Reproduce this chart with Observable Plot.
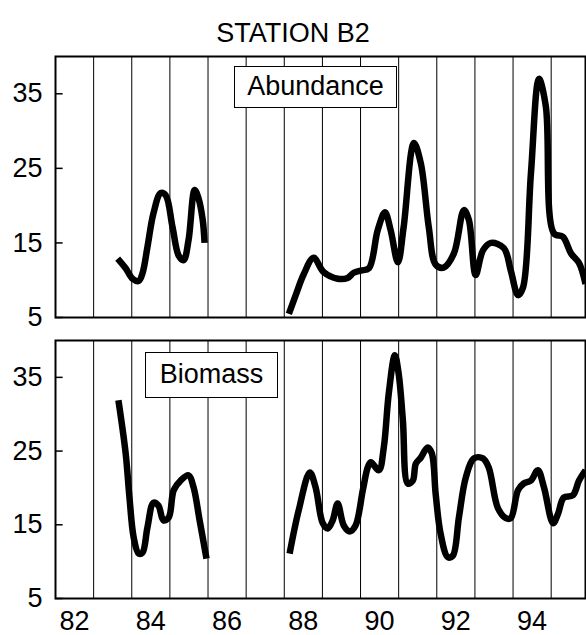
<!DOCTYPE html>
<html><head><meta charset="utf-8">
<script src="https://cdn.jsdelivr.net/npm/d3@7"></script>
<script src="https://cdn.jsdelivr.net/npm/@observablehq/plot@0.6"></script>
<style>
body{margin:0;background:#fff;}
#wrap{position:relative;width:586px;height:635px;overflow:hidden;font-family:"Liberation Sans",Arial,sans-serif;color:#000;}
#title{position:absolute;left:0;width:586px;top:17px;text-align:center;font-size:27px;line-height:32px;}
.panel{position:absolute;left:0;}
.panel text{font-size:27px;}
.tag{position:absolute;background:#fff;border:1.5px solid #000;font-size:27px;text-align:center;box-sizing:border-box;}
</style></head>
<body><div id="wrap"><div id="title">STATION B2</div></div>
<script>
// ---- data (decimal years; value) ----
const abundance1Year = [83.13, 83.34, 83.52, 83.68, 83.78, 83.91, 84.07, 84.26, 84.39, 84.57, 84.73, 84.86, 84.99, 85.15, 85.25, 85.36, 85.41];
const abundance1Value = [12.9, 11.6, 10.2, 9.9, 10.9, 14.4, 19.0, 21.7, 21.4, 17.1, 13.3, 12.7, 15.4, 22.1, 21.0, 18.1, 15.0];
const abundance2Year = [87.62, 87.80, 88.01, 88.27, 88.53, 88.90, 89.16, 89.32, 89.51, 89.72, 89.95, 90.14, 90.29, 90.48, 90.63, 90.90, 91.08, 91.29, 91.47, 91.68, 91.95, 92.21, 92.34, 92.52, 92.71, 92.92, 93.26, 93.44, 93.63, 93.76, 93.97, 94.18, 94.36, 94.57, 94.81, 95.02, 95.23, 95.40];
const abundance2Value = [5.5, 8.0, 10.8, 13.0, 11.1, 10.2, 10.3, 11.0, 11.3, 11.6, 16.7, 19.1, 16.7, 12.4, 17.1, 28.4, 25.7, 17.1, 12.1, 11.7, 13.6, 19.4, 18.1, 10.7, 14.0, 15.0, 14.3, 11.3, 8.0, 9.0, 24.4, 37.0, 33.3, 16.3, 15.8, 13.6, 12.3, 9.5];
const biomass1Year = [83.15, 83.34, 83.44, 83.55, 83.68, 83.78, 83.91, 84.07, 84.20, 84.33, 84.47, 84.60, 84.78, 84.99, 85.12, 85.28, 85.46];
const biomass1Value = [31.9, 24.7, 18.7, 13.3, 11.1, 11.2, 14.6, 18.0, 17.6, 15.6, 16.0, 19.7, 21.0, 21.7, 20.1, 15.6, 10.4];
const biomass2Year = [87.64, 87.88, 88.17, 88.32, 88.51, 88.64, 88.77, 88.90, 89.06, 89.22, 89.37, 89.56, 89.69, 89.77, 89.98, 90.11, 90.24, 90.40, 90.50, 90.61, 90.74, 90.87, 90.95, 91.08, 91.26, 91.37, 91.47, 91.60, 91.79, 91.92, 92.08, 92.26, 92.47, 92.71, 92.86, 93.10, 93.31, 93.44, 93.63, 93.78, 93.97, 94.15, 94.31, 94.55, 94.68, 94.83, 95.07, 95.23, 95.40];
const biomass2Value = [11.1, 17.0, 22.1, 20.1, 15.2, 14.5, 15.6, 17.9, 14.9, 14.1, 14.9, 19.7, 22.8, 23.5, 22.4, 25.5, 32.8, 38.0, 35.5, 29.2, 20.6, 21.0, 23.3, 24.1, 25.5, 24.7, 19.2, 13.8, 10.6, 10.8, 16.0, 21.4, 24.0, 24.0, 22.8, 17.3, 15.9, 15.9, 19.7, 20.6, 21.0, 22.4, 20.1, 15.2, 16.5, 18.7, 19.0, 21.0, 22.4];

const xTickLabels = [82, 84, 86, 88, 90, 92, 94];
const yTickLabels = [5, 15, 25, 35];
const gridYears = [82.5, 83.5, 84.5, 85.5, 86.5, 87.5, 88.5, 89.5, 90.5, 91.5, 92.5, 93.5, 94.5];
const xDomain = [81.5, 95.4];
const yDomain = [5, 40];

function rows(years, values, seg) { return years.map((t, i) => ({t, v: values[i], seg})); }
const abundance = [...rows(abundance1Year, abundance1Value, "a"), ...rows(abundance2Year, abundance2Value, "b")];
const biomass = [...rows(biomass1Year, biomass1Value, "a"), ...rows(biomass2Year, biomass2Value, "b")];

const font = '"Liberation Sans", Arial, sans-serif';

function panel(data, opts) {
  const marks = [
    Plot.ruleX(gridYears, {x: d => d, stroke: "#000", strokeWidth: 1}),
    Plot.line(data, {x: "t", y: "v", z: "seg", curve: "catmull-rom", stroke: "#000", strokeWidth: 6.5, strokeLinejoin: "round", strokeLinecap: "butt"}),
    Plot.ruleY(yTickLabels, {y: d => d, x1: xDomain[0], x2: xDomain[0] + 0.2, stroke: "#000", strokeWidth: 1.5}),
    Plot.frame({stroke: "#000", strokeWidth: 2}),
    Plot.axisY({ticks: yTickLabels, tickSize: 0, tickPadding: 13, label: null})
  ];
  if (opts.xAxis) marks.push(Plot.axisX({ticks: xTickLabels, tickSize: 0, tickPadding: 12, label: null}));
  return Plot.plot({
    width: 586, height: opts.height,
    marginLeft: 55, marginRight: 1, marginTop: opts.mt, marginBottom: opts.mb,
    x: {domain: xDomain, label: null, axis: opts.xAxis ? undefined : null},
    y: {domain: yDomain, label: null},
    style: {fontFamily: font, fontSize: "27px", color: "#000", background: "transparent", overflow: "visible"},
    marks
  });
}

const wrap = document.getElementById("wrap");
const topPanel = panel(abundance, {height: 280, mt: 6, mb: 13, xAxis: false});
topPanel.classList.add("panel"); topPanel.style.top = "50px";
wrap.appendChild(topPanel);
const bottomPanel = panel(biomass, {height: 305, mt: 10, mb: 37, xAxis: true});
bottomPanel.classList.add("panel"); bottomPanel.style.top = "330px";
wrap.appendChild(bottomPanel);

function tag(text, left, topPx, w, h) {
  const d = document.createElement("div");
  d.className = "tag"; d.textContent = text;
  d.style.left = left + "px"; d.style.top = topPx + "px";
  d.style.width = w + "px"; d.style.height = h + "px";
  d.style.lineHeight = (h - 3) + "px";
  wrap.appendChild(d);
}
tag("Abundance", 234, 66, 163, 42);
tag("Biomass", 145, 352, 133, 46);
</script>
</body></html>
